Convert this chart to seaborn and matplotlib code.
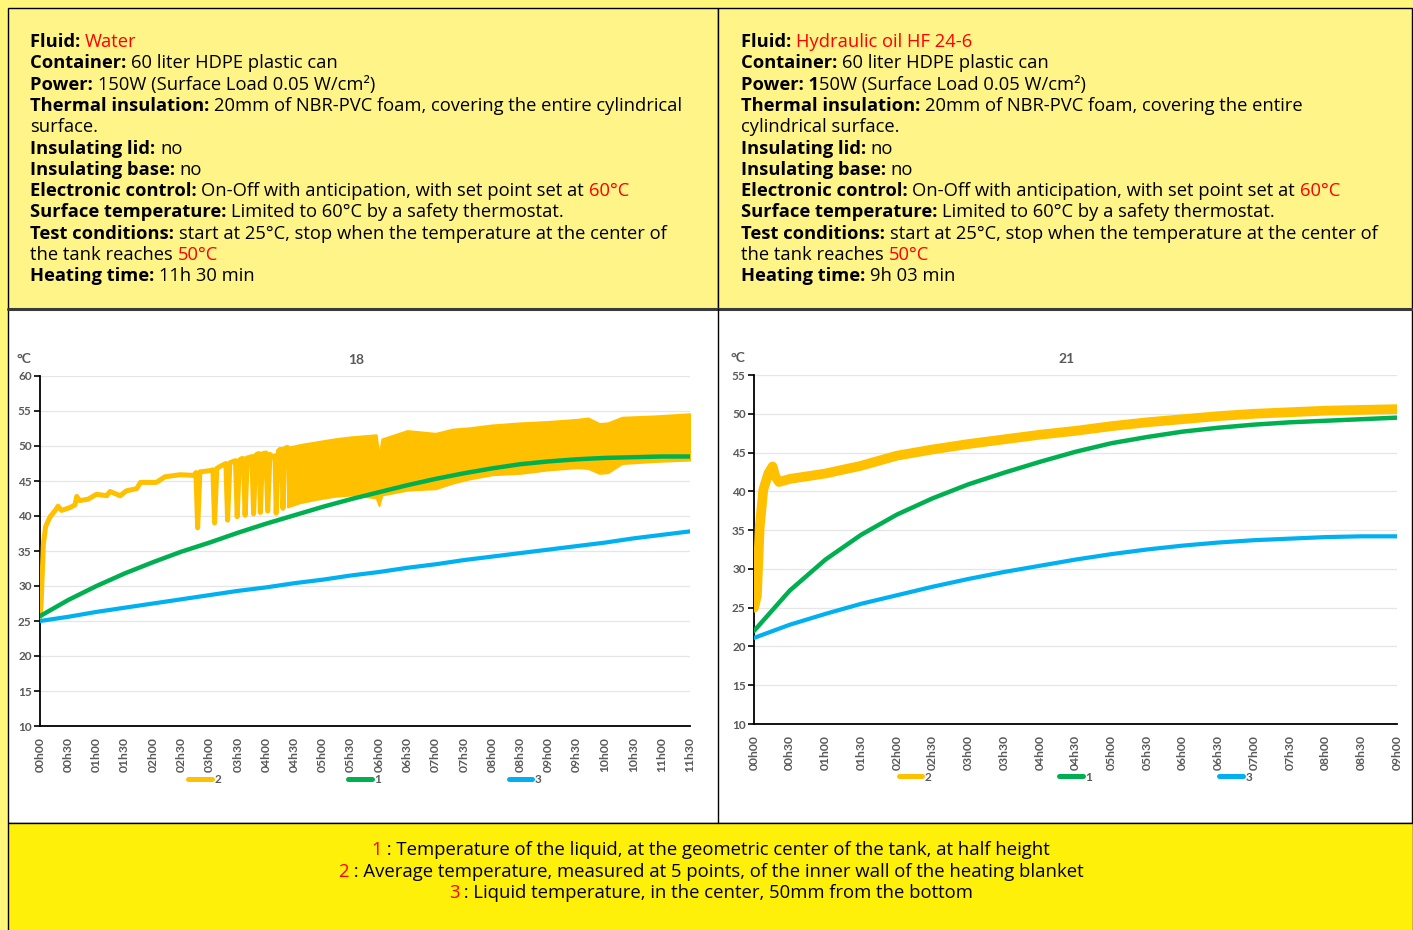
import numpy as np
import pandas as pd
import seaborn as sns
import matplotlib.pyplot as plt
from matplotlib.patches import Rectangle
from matplotlib.lines import Line2D

# ---- data (hours, °C) ----
# water test (chart 18)
water_orange_t = [0.00, 0.02, 0.06, 0.10, 0.18, 0.27, 0.32, 0.38, 0.53, 0.62, 0.65, 0.70, 0.85,
                  1.00, 1.18, 1.24, 1.42, 1.53, 1.71, 1.78, 2.06, 2.21, 2.48, 2.72, 2.76, 2.79,
                  2.83, 3.03, 3.06, 3.09, 3.13, 3.19, 3.29, 3.32, 3.36, 3.42, 3.46, 3.49, 3.53,
                  3.57, 3.60, 3.63, 3.67, 3.72, 3.75, 3.78, 3.82, 3.86, 3.88, 3.90, 3.94, 4.00,
                  4.03, 4.07, 4.13, 4.16, 4.18, 4.22, 4.25, 4.28, 4.30, 4.34, 4.38]
water_orange_v = [25.5, 27.5, 36.0, 38.5, 39.9, 40.8, 41.4, 40.8, 41.2, 41.6, 42.8, 42.2, 42.4,
                  43.1, 42.9, 43.5, 42.9, 43.6, 43.9, 44.8, 44.8, 45.6, 45.9, 45.8, 46.2, 38.3,
                  46.3, 46.5, 46.6, 39.0, 46.8, 47.1, 47.5, 39.4, 47.6, 47.8, 47.9, 39.9, 48.0,
                  48.2, 48.2, 40.1, 48.3, 48.4, 48.5, 40.3, 48.7, 48.9, 48.9, 40.5, 48.9, 49.0,
                  40.7, 48.8, 48.4, 48.6, 40.4, 49.3, 49.5, 49.5, 41.1, 49.7, 49.8]
# on-off oscillation band of curve 2 (low / high envelopes)
water_band_t = [4.38, 4.6, 4.9, 5.2, 5.5, 5.95, 6.0, 6.05, 6.5, 7.0, 7.3, 7.6, 8.0, 8.5, 9.0,
                9.5, 9.7, 9.9, 10.05, 10.3, 10.9, 11.5]
water_band_lo = [41.3, 41.9, 42.4, 42.8, 43.0, 42.6, 41.5, 43.0, 43.7, 43.9, 44.7, 45.3, 45.9,
                 46.1, 46.6, 46.9, 46.8, 46.1, 46.2, 47.5, 47.8, 48.0]
water_band_hi = [49.8, 50.2, 50.6, 51.0, 51.3, 51.6, 48.5, 51.0, 52.2, 51.8, 52.4, 52.6, 53.0,
                 53.3, 53.5, 53.8, 54.0, 53.2, 53.3, 54.1, 54.3, 54.6]
water_t = [0, 0.5, 1, 1.5, 2, 2.5, 3, 3.5, 4, 4.5, 5, 5.5, 6, 6.5, 7, 7.5, 8, 8.5, 9, 9.5,
           10, 10.5, 11, 11.5]
water_green = [25.7, 28.0, 30.0, 31.8, 33.4, 34.9, 36.2, 37.6, 38.9, 40.1, 41.3, 42.4, 43.4,
               44.4, 45.3, 46.1, 46.8, 47.4, 47.8, 48.1, 48.3, 48.4, 48.5, 48.5]
water_blue = [25.0, 25.6, 26.3, 26.9, 27.5, 28.1, 28.7, 29.3, 29.8, 30.4, 30.9, 31.5, 32.0,
              32.6, 33.1, 33.7, 34.2, 34.7, 35.2, 35.7, 36.2, 36.8, 37.3, 37.8]
water_xlabels = ["00h00", "00h30", "01h00", "01h30", "02h00", "02h30", "03h00", "03h30",
                 "04h00", "04h30", "05h00", "05h30", "06h00", "06h30", "07h00", "07h30",
                 "08h00", "08h30", "09h00", "09h30", "10h00", "10h30", "11h00", "11h30"]
water_yticks = [10, 15, 20, 25, 30, 35, 40, 45, 50, 55, 60]

# hydraulic oil test (chart 21)
oil_orange_t = [0, 0.04, 0.08, 0.13, 0.2, 0.26, 0.3, 0.35, 0.5, 1, 1.5, 2, 2.5, 3, 3.5, 4,
                4.5, 5, 5.5, 6, 6.5, 7, 7.5, 8, 8.5, 9]
oil_orange_v = [25.0, 26.5, 35.4, 40.2, 42.3, 43.2, 41.9, 41.2, 41.6, 42.3, 43.3, 44.6, 45.4,
                46.1, 46.7, 47.3, 47.8, 48.4, 48.9, 49.3, 49.7, 50.0, 50.2, 50.4, 50.5, 50.6]
oil_t = [0, 0.5, 1, 1.5, 2, 2.5, 3, 3.5, 4, 4.5, 5, 5.5, 6, 6.5, 7, 7.5, 8, 8.5, 9]
oil_green = [22.0, 27.2, 31.2, 34.4, 37.0, 39.1, 40.9, 42.4, 43.8, 45.1, 46.2, 47.0, 47.7,
             48.2, 48.6, 48.9, 49.1, 49.3, 49.5]
oil_blue = [21.1, 22.8, 24.2, 25.5, 26.6, 27.7, 28.7, 29.6, 30.4, 31.2, 31.9, 32.5, 33.0,
            33.4, 33.7, 33.9, 34.1, 34.2, 34.2]
oil_xlabels = ["00h00", "00h30", "01h00", "01h30", "02h00", "02h30", "03h00", "03h30",
               "04h00", "04h30", "05h00", "05h30", "06h00", "06h30", "07h00", "07h30",
               "08h00", "08h30", "09h00"]
oil_yticks = [10, 15, 20, 25, 30, 35, 40, 45, 50, 55]

# ---- texts ----
left_lines = [
    [("Fluid: ", "b"), ("Water", "r")],
    [("Container: ", "b"), ("60 liter HDPE plastic can", "n")],
    [("Power: ", "b"), ("150W (Surface Load 0.05 W/cm²)", "n")],
    [("Thermal insulation: ", "b"), ("20mm of NBR-PVC foam, covering the entire cylindrical", "n")],
    [("surface.", "n")],
    [("Insulating lid: ", "b"), ("no", "n")],
    [("Insulating base: ", "b"), ("no", "n")],
    [("Electronic control: ", "b"), ("On-Off with anticipation, with set point set at ", "n"), ("60°C", "r")],
    [("Surface temperature: ", "b"), ("Limited to 60°C by a safety thermostat.", "n")],
    [("Test conditions: ", "b"), ("start at 25°C, stop when the temperature at the center of", "n")],
    [("the tank reaches ", "n"), ("50°C", "r")],
    [("Heating time: ", "b"), ("11h 30 min", "n")],
]
right_lines = [
    [("Fluid: ", "b"), ("Hydraulic oil HF 24-6", "r")],
    [("Container: ", "b"), ("60 liter HDPE plastic can", "n")],
    [("Power: 1", "b"), ("50W (Surface Load 0.05 W/cm²)", "n")],
    [("Thermal insulation: ", "b"), ("20mm of NBR-PVC foam, covering the entire", "n")],
    [("cylindrical surface.", "n")],
    [("Insulating lid: ", "b"), ("no", "n")],
    [("Insulating base: ", "b"), ("no", "n")],
    [("Electronic control: ", "b"), ("On-Off with anticipation, with set point set at ", "n"), ("60°C", "r")],
    [("Surface temperature: ", "b"), ("Limited to 60°C by a safety thermostat.", "n")],
    [("Test conditions: ", "b"), ("start at 25°C, stop when the temperature at the center of", "n")],
    [("the tank reaches ", "n"), ("50°C", "r")],
    [("Heating time: ", "b"), ("9h 03 min", "n")],
]
bottom_lines = [
    [("1", "r"), (" : Temperature of the liquid, at the geometric center of the tank, at half height", "n")],
    [("2", "r"), (" : Average temperature, measured at 5 points, of the inner wall of the heating blanket", "n")],
    [("3", "r"), (" : Liquid temperature, in the center, 50mm from the bottom", "n")],
]

ORANGE, GREEN, BLUE = "#FFC000", "#00B050", "#00B0F0"
GREY = "#595959"
W, H = 1413, 930
FONT = "Lato"
TXT_FONT = "Open Sans"

sns.set_theme(style="white")
plt.rcParams['font.family'] = [FONT, 'DejaVu Sans']

fig = plt.figure(figsize=(W / 100, H / 100), dpi=100, facecolor="#FFF67A")


def box(x0, y0, x1, y1, fc, lw=1.0, ec="black"):
    fig.add_artist(Rectangle((x0 / W, 1 - y1 / H), (x1 - x0) / W, (y1 - y0) / H,
                             transform=fig.transFigure, fc=fc, ec=ec, lw=lw, zorder=0))


box(8, 8, 718, 309, "#FEF487")
box(718, 8, 1412, 309, "#FEF487")
box(8, 309, 1412, 823, "white")
box(8, 823, 1413, 931, "#FFF00A")
fig.add_artist(Line2D([8 / W, 1412 / W], [1 - 309.5 / H] * 2, transform=fig.transFigure,
                      color="#3a3a3a", lw=2.2))
fig.add_artist(Line2D([718 / W] * 2, [1 - 309 / H, 1 - 823 / H], transform=fig.transFigure,
                      color="black", lw=1.0))

STYLES = {"b": dict(weight="bold", color="black", family=TXT_FONT),
          "n": dict(color="black", family=TXT_FONT),
          "r": dict(color="#FF0000", family=TXT_FONT)}
renderer = fig.canvas.get_renderer()


def text_width(s, size, style):
    t = fig.text(0, 0, "|" + s + "|", fontsize=size, **STYLES[style])
    t2 = fig.text(0, 0, "||", fontsize=size, **STYLES[style])
    w = t.get_window_extent(renderer).width - t2.get_window_extent(renderer).width
    t.remove()
    t2.remove()
    return w


def line_width(parts, size):
    return sum(text_width(s, size, st) for s, st in parts)


# size the text so the longest top line spans like the reference (~653 px)
TXT = 12 * 653 / line_width(left_lines[3], 12)


def rich_line(x, y, parts, size, align="left"):
    widths = [text_width(s, size, st) for s, st in parts]
    x0 = x - sum(widths) / 2 if align == "center" else x
    for (s, st), w in zip(parts, widths):
        fig.text(x0 / W, 1 - y / H, s, fontsize=size, ha="left", va="baseline", **STYLES[st])
        x0 += w


for i, parts in enumerate(left_lines):
    rich_line(30, 47 + i * 21.3, parts, TXT)
for i, parts in enumerate(right_lines):
    rich_line(741, 47 + i * 21.3, parts, TXT)
for i, parts in enumerate(bottom_lines):
    rich_line(711, 855 + i * 21.6, parts, TXT * 1.005, align="center")


def draw_chart(ax, ot, ov, t, g, b, xlabels, yticks, title, band=None, olw=3.6):
    sns.lineplot(x=ot, y=ov, ax=ax, color=ORANGE, lw=olw, sort=False, zorder=3)
    if band is not None:
        ax.fill_between(band[0], band[1], band[2], color=ORANGE, lw=1.5, ec=ORANGE, zorder=3)
    sns.lineplot(x=t, y=g, ax=ax, color=GREEN, lw=3.2, sort=False, zorder=4)
    sns.lineplot(x=t, y=b, ax=ax, color=BLUE, lw=3.0, sort=False, zorder=5)
    xmax = (len(xlabels) - 1) * 0.5
    ax.set_xlim(0, xmax)
    ax.set_ylim(yticks[0], yticks[-1])
    ax.set_xticks(np.arange(len(xlabels)) * 0.5)
    ax.set_xticklabels(xlabels, rotation=90)
    ax.set_xticks(np.arange(0, xmax + 0.01, 1.0), minor=True)
    ax.set_yticks(yticks)
    ax.set_yticklabels([str(v) for v in yticks])
    ax.tick_params(axis="x", which="major", length=0, pad=8, labelsize=8.7, labelcolor=GREY)
    ax.tick_params(axis="x", which="minor", length=4, width=1.2, color="black", direction="out",
                   bottom=True)
    ax.tick_params(axis="y", length=4, width=1.2, color="black", direction="out", left=True,
                   labelsize=8.5, labelcolor=GREY, pad=2)
    for lab in ax.get_xticklabels() + ax.get_yticklabels():
        lab.set_fontweight("bold")
    ax.grid(False)
    ax.grid(axis="y", which="major", color="#e6e6e6", lw=0.9)
    ax.grid(axis="x", which="minor", color="#e6e6e6", lw=0.9)
    ax.set_axisbelow(True)
    for s in ["top", "right"]:
        ax.spines[s].set_visible(False)
    for s in ["left", "bottom"]:
        ax.spines[s].set_color("black")
        ax.spines[s].set_linewidth(1.3)
    ax.set_xlabel("")
    ax.set_ylabel("")
    ax.set_facecolor("white")
    ax.text(0.486, 1.046, title, transform=ax.transAxes, ha="center", va="center",
            fontsize=10, fontweight="bold", color=GREY)
    ax.text(-0.025, 1.048, "°C", transform=ax.transAxes, ha="center", va="center",
            fontsize=10, fontweight="bold", color=GREY)
    handles = [Line2D([], [], color=c, lw=3.6, solid_capstyle="round") for c in (ORANGE, GREEN, BLUE)]
    leg = ax.legend(handles, ["2", "1", "3"], loc="center", bbox_to_anchor=(0.5, -0.152),
                    ncol=3, frameon=False, handlelength=2.0, handletextpad=0.2,
                    columnspacing=10.8, prop=dict(family=FONT, weight="bold", size=8.5))
    for tx in leg.get_texts():
        tx.set_color(GREY)


ax1 = fig.add_axes([40 / W, (H - 726) / H, 649.75 / W, 350 / H])
ax2 = fig.add_axes([754 / W, (H - 724) / H, 643 / W, 349 / H])

draw_chart(ax1, water_orange_t, water_orange_v, water_t, water_green, water_blue,
           water_xlabels, water_yticks, "18",
           band=(water_band_t, water_band_lo, water_band_hi))
draw_chart(ax2, oil_orange_t, oil_orange_v, oil_t, oil_green, oil_blue,
           oil_xlabels, oil_yticks, "21", olw=7.0)

fig.savefig("out.png", dpi=100, facecolor=fig.get_facecolor())
